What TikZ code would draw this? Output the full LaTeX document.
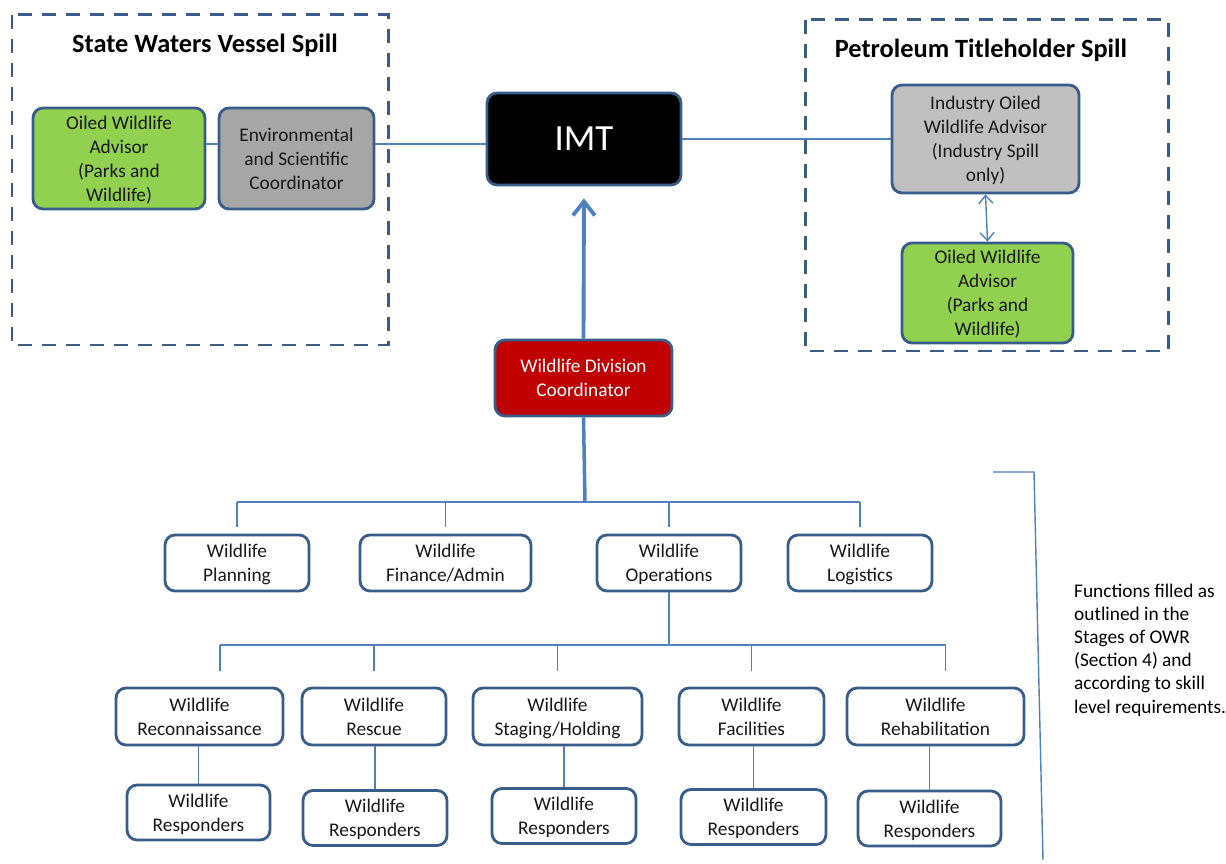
\documentclass[tikz,border=0pt]{standalone}
\usepackage{fontspec}
\setmainfont{Carlito}
\usepackage{tikz}
\usetikzlibrary{arrows.meta}
\definecolor{boxline}{RGB}{56,93,138}
\definecolor{linkblue}{RGB}{79,129,189}
\definecolor{owagreen}{RGB}{146,208,80}
\definecolor{escgrey}{RGB}{166,166,166}
\definecolor{indgrey}{RGB}{191,191,191}
\definecolor{wdcred}{RGB}{192,0,0}

\begin{document}
\begin{tikzpicture}[x=0.02cm, y=-0.02cm,
    every node/.style={font=\fontsize{11}{13.6}\selectfont, align=center},
    unit/.style={draw=boxline, line width=1.6pt, rounded corners=0.2cm, inner sep=0pt, text depth=0pt, fill=white, text=black!90},
    link/.style={draw=linkblue, line width=1pt},
    spillbox/.style={draw=boxline, line width=1.7pt, dash pattern=on 0.28cm off 0.2cm},
    title/.style={font=\fontsize{15}{18}\selectfont\bfseries}]
  \useasboundingbox (0,0) rectangle (1226,864);

  % State waters spill (left)
  \draw[spillbox] (12,15) rectangle (388,345);
  \node[title] (swTitle) at (205,45) {State Waters Vessel Spill};
  \node[unit, fill=owagreen, minimum width=3.44cm, minimum height=2.02cm] (owaL) at (119,158.5) {Oiled Wildlife\\Advisor\\(Parks and\\Wildlife)};
  \node[unit, fill=escgrey, minimum width=3.10cm, minimum height=2.02cm] (esc) at (296.5,158.5) {Environmental\\and Scientific\\Coordinator};

  % IMT
  \node[unit, fill=black, text=white, font=\fontsize{21}{25}\selectfont, minimum width=3.88cm, minimum height=1.84cm] (imt) at (584,139) {IMT};

  % Petroleum titleholder spill (right)
  \draw[spillbox] (805,20) rectangle (1168,351);
  \node[title] (ptTitle) at (981,50) {Petroleum Titleholder Spill};
  \node[unit, fill=indgrey, minimum width=3.74cm, minimum height=2.16cm] (iowa) at (985.5,139) {Industry Oiled\\Wildlife Advisor\\(Industry Spill\\only)};
  \node[unit, fill=owagreen, minimum width=3.42cm, minimum height=2.00cm] (owaR) at (987.5,293) {Oiled Wildlife\\Advisor\\(Parks and\\Wildlife)};

  % Division coordinator
  \node[unit, fill=wdcred, text=white, minimum width=3.54cm, minimum height=1.52cm] (wdc) at (583.5,378) {Wildlife Division\\Coordinator};

  % Functions
  \node[unit, minimum width=2.88cm, minimum height=1.12cm] (plan) at (237,563) {Wildlife\\Planning};
  \node[unit, minimum width=3.42cm, minimum height=1.12cm] (fin) at (445.5,563) {Wildlife\\Finance/Admin};
  \node[unit, minimum width=2.88cm, minimum height=1.12cm] (ops) at (669,563) {Wildlife\\Operations};
  \node[unit, minimum width=2.88cm, minimum height=1.12cm] (log) at (860,563) {Wildlife\\Logistics};

  % Operations units
  \node[unit, minimum width=3.34cm, minimum height=1.14cm] (recon) at (199.5,716.5) {Wildlife\\Reconnaissance};
  \node[unit, minimum width=2.88cm, minimum height=1.14cm] (rescue) at (374,716.5) {Wildlife\\Rescue};
  \node[unit, minimum width=3.38cm, minimum height=1.14cm] (staging) at (557.5,716.5) {Wildlife\\Staging/Holding};
  \node[unit, minimum width=2.90cm, minimum height=1.14cm] (facil) at (751.5,716.5) {Wildlife\\Facilities};
  \node[unit, minimum width=3.54cm, minimum height=1.14cm] (rehab) at (935.5,716.5) {Wildlife\\Rehabilitation};

  % Responders
  \node[unit, minimum width=2.86cm, minimum height=1.10cm] (resp1) at (198.5,812.5) {Wildlife\\Responders};
  \node[unit, minimum width=2.88cm, minimum height=1.10cm] (resp2) at (375,818) {Wildlife\\Responders};
  \node[unit, minimum width=2.88cm, minimum height=1.10cm] (resp3) at (564,816) {Wildlife\\Responders};
  \node[unit, minimum width=2.90cm, minimum height=1.10cm] (resp4) at (753.5,817) {Wildlife\\Responders};
  \node[unit, minimum width=2.86cm, minimum height=1.10cm] (resp5) at (929.5,818.5) {Wildlife\\Responders};

  % Links at the top
  \draw[link] ([yshift=0.29cm]owaL.east) -- ([yshift=0.29cm]esc.west);
  \draw[link] ([yshift=0.29cm]esc.east) -- ([yshift=0.29cm]esc.east -| imt.west);
  \draw[link] (imt.east) -- (iowa.west);
  \draw[link, line width=0.8pt, {Straight Barb[length=1.6mm,width=2.8mm]}-{Straight Barb[length=1.6mm,width=2.8mm]}] (iowa.south) -- (owaR.north);
  \draw[link, line width=2.2pt, -{Straight Barb[length=2.8mm,width=4.4mm]}, shorten >=0.24cm] (wdc.north) -- (imt.south);

  % Division tree
  \coordinate (busTop) at (585,502);
  \coordinate (busOps) at (669,645);
  \draw[link, line width=2pt] (wdc.south) -- (busTop);
  \draw[link] (plan.north |- busTop) -- (log.north |- busTop);
  \foreach \n in {plan,fin,ops,log}
    \draw[link] (\n.north |- busTop) -- ([yshift=0.14cm]\n.north);
  \draw[link] (ops.south) -- (busOps);
  \draw[link] ([xshift=0.41cm]recon.north |- busOps) -- ([xshift=0.2cm]rehab.north |- busOps);
  \draw[link] ([xshift=0.41cm]recon.north |- busOps) -- ([xshift=0.41cm,yshift=0.32cm]recon.north);
  \draw[link] ([xshift=0.2cm]rehab.north |- busOps) -- ([xshift=0.2cm,yshift=0.32cm]rehab.north);
  \foreach \n in {rescue,staging,facil}
    \draw[link] (\n.north |- busOps) -- ([yshift=0.32cm]\n.north);
  \foreach \a/\b in {recon/resp1,rescue/resp2,staging/resp3,facil/resp4,rehab/resp5}
    \draw[link] (\b.north |- \a.south) -- (\b.north);

  % Bracket and note
  \coordinate (brTop) at (993,472);
  \coordinate (brCorner) at (1034,472);
  \coordinate (brEnd) at (1043,860);
  \draw[link, line width=0.8pt] (brTop) -- (brCorner) -- (brEnd);
  \node[anchor=west, align=left, font=\fontsize{11}{13.2}\selectfont] (note) at (1068,650) {Functions filled as\\outlined in the\\Stages of OWR\\(Section 4) and\\according to skill\\level requirements.};
\end{tikzpicture}
\end{document}
